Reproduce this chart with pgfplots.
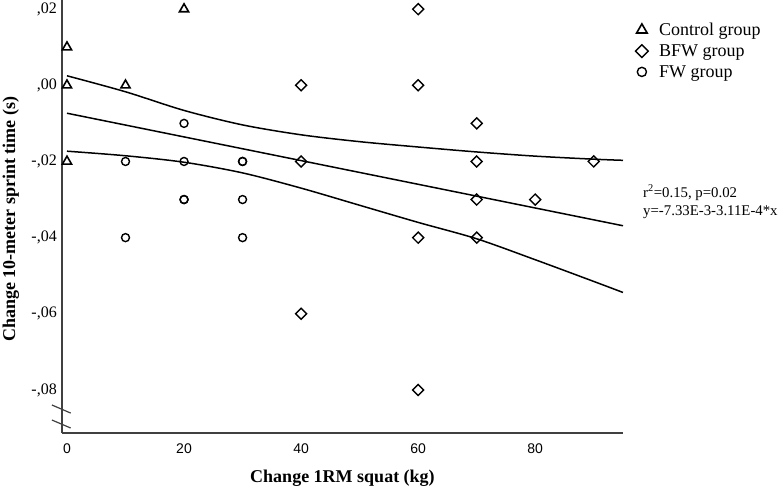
\documentclass[border=0pt]{standalone}
\usepackage{fontspec}
\setmainfont{Liberation Serif}
\newfontfamily\arialfont{Liberation Sans}
\usepackage{pgfplots}
\pgfplotsset{compat=1.18}
\usepackage{pgfplotstable}

\pgfplotstableread{
x y
0 0.01
0 0
0 -0.02
10 0
20 0.02
}\controldata

\pgfplotstableread{
x y
40 0
40 -0.02
40 -0.06
60 0.02
60 0
60 -0.04
60 -0.08
70 -0.01
70 -0.02
70 -0.03
70 -0.04
80 -0.03
90 -0.02
}\bfwdata

\pgfplotstableread{
x y
10 -0.02
10 -0.04
20 -0.01
20 -0.02
20 -0.03
20 -0.03
30 -0.02
30 -0.02
30 -0.03
30 -0.04
}\fwdata

\pgfplotstableread{
x y
0 -0.00733
95 -0.03688
}\fitline

\pgfplotstableread{
x y
0 0.0025
10 -0.0017
20 -0.0066
30 -0.0104
40 -0.0130
50 -0.0148
60 -0.0162
70 -0.0175
80 -0.0186
90 -0.0194
95 -0.0197
}\upperci

\pgfplotstableread{
x y
0 -0.0173
10 -0.0185
20 -0.0202
30 -0.0230
40 -0.0270
50 -0.0315
60 -0.0360
70 -0.0403
80 -0.0458
90 -0.0515
95 -0.0544
}\lowerci

\definecolor{axisgray}{HTML}{404040}

\begin{document}
\begin{tikzpicture}
\useasboundingbox (0,0) rectangle (778pt,490pt);
\begin{axis}[
  at={(62pt,57pt)}, anchor=south west,
  scale only axis, width=561pt, height=433pt,
  xmin=-0.85, xmax=95, ymin=-0.0913, ymax=0.0224,
  clip=false,
  axis lines=left,
  axis line style={-, line width=1.6pt, color=axisgray},
  xtick={0,20,40,60,80},
  xticklabels={0,20,40,60,80},
  ytick={-0.08,-0.06,-0.04,-0.02,0,0.02},
  yticklabels={{-,08},{-,06},{-,04},{-,02},{,00},{,02}},
  major tick length=0pt,
  tick style={draw=none},
  xticklabel style={font=\arialfont\fontsize{14}{16}\selectfont, yshift=-7pt},
  yticklabel style={font=\fontsize{16}{18}\selectfont, inner sep=1pt, xshift=-4pt},
  xlabel={Change 1RM squat (kg)},
  ylabel={Change 10-meter sprint time (s)},
  xlabel style={font=\bfseries\fontsize{18}{21}\selectfont, at={(axis description cs:0.5,-0.104)}, anchor=center},
  ylabel style={font=\bfseries\fontsize{18}{21}\selectfont, at={(axis description cs:-0.091,0.494)}, anchor=center, rotate=0},
  legend style={at={(axis description cs:1.022,0.952)}, anchor=north west, draw=none, fill=none,
    font=\fontsize{18}{20}\selectfont, row sep=3.5pt, column sep=9pt, inner sep=0pt},
  legend image post style={scale=1.15},
  legend cell align=left,
]
\addplot[only marks, mark=triangle, mark size=5.3pt, mark options={line width=1.6pt, draw=black, fill=none}] table {\controldata};
\addlegendentry{Control group}
\addplot[only marks, mark=square, mark size=3.9pt, mark options={rotate=45, line width=1.4pt, draw=black, fill=none}] table {\bfwdata};
\addlegendentry{BFW group}
\addplot[only marks, mark=o, mark size=4pt, mark options={line width=1.4pt, draw=black}] table {\fwdata};
\addlegendentry{FW group}

\addplot[forget plot, black, line width=1.5pt] table {\fitline};
\addplot[forget plot, black, line width=1.5pt, smooth] table {\upperci};
\addplot[forget plot, black, line width=1.5pt, smooth] table {\lowerci};

\draw[axisgray, line width=1.2pt] (axis description cs:-0.018,0.0647) -- (axis description cs:0.0155,0.046);
\draw[axisgray, line width=1.2pt] (axis description cs:-0.018,0.030) -- (axis description cs:0.0155,0.0115);

\node[anchor=west, align=left, inner sep=0pt, font=\fontsize{14.8}{18}\selectfont] at (axis description cs:1.0357,0.534)
  {r\textsuperscript{2}=0.15, p=0.02\\y=-7.33E-3-3.11E-4*x};
\end{axis}
\end{tikzpicture}
\end{document}
